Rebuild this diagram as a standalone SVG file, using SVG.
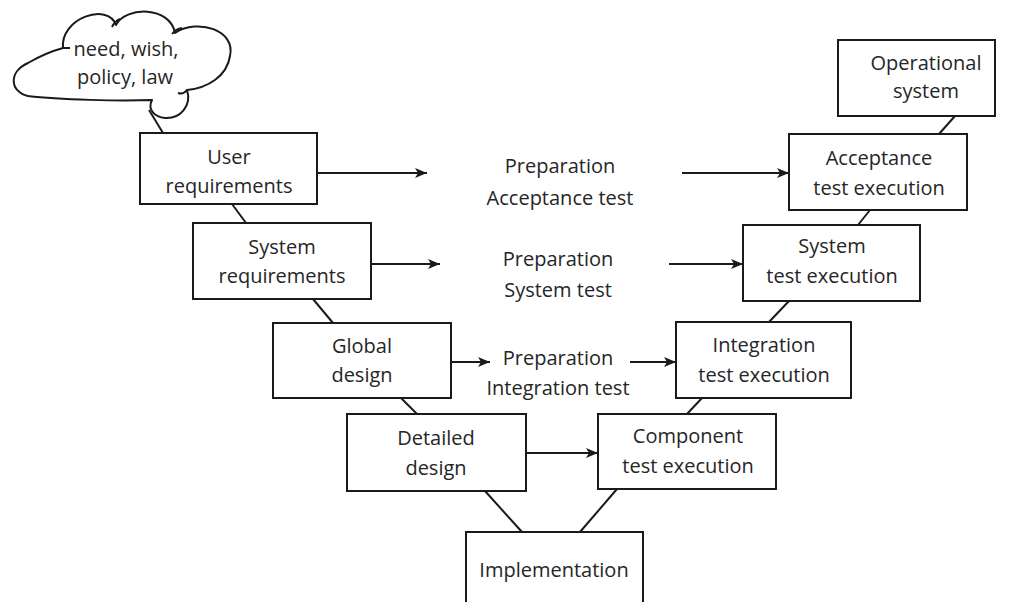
<svg xmlns="http://www.w3.org/2000/svg" width="1010" height="602" viewBox="0 0 1010 602">
  <defs>
    <marker id="arr" viewBox="0 0 12 10" refX="12" refY="5" markerWidth="12" markerHeight="10" markerUnits="userSpaceOnUse" orient="auto">
      <path d="M0,0 L12,5 L0,10 L3,5 Z" fill="#1a1a1a"/>
    </marker>
    <style>
      .box { fill: #fff; stroke: #1a1a1a; stroke-width: 2; }
      .cloud { fill: #fff; stroke: #1a1a1a; stroke-width: 2; stroke-linejoin: round; }
      .t { font-family: "Open Sans", "Liberation Sans", sans-serif; font-size: 20px; fill: #262626; text-anchor: middle; }
      .c { stroke: #1a1a1a; stroke-width: 2; fill: none; }
      .a { stroke: #1a1a1a; stroke-width: 2; fill: none; marker-end: url(#arr); }
    </style>
  </defs>
  <rect width="1010" height="602" fill="#fff"/>

  <g id="connectors">
    <line class="c" x1="149" y1="110" x2="163" y2="133"/>
    <line class="c" x1="232" y1="204" x2="246" y2="223"/>
    <line class="c" x1="313" y1="299" x2="333" y2="323"/>
    <line class="c" x1="401" y1="398" x2="417" y2="414"/>
    <line class="c" x1="485" y1="491" x2="522" y2="532"/>
    <line class="c" x1="617" y1="489" x2="580" y2="532"/>
    <line class="c" x1="702" y1="398" x2="687" y2="414"/>
    <line class="c" x1="789" y1="301" x2="769" y2="322"/>
    <line class="c" x1="870" y1="210" x2="858" y2="225"/>
    <line class="c" x1="955" y1="116" x2="939" y2="134"/>
    <line class="a" x1="316" y1="173" x2="427" y2="173"/>
    <line class="a" x1="682" y1="173" x2="789" y2="173"/>
    <line class="a" x1="371" y1="264" x2="440" y2="264"/>
    <line class="a" x1="669" y1="264" x2="743" y2="264"/>
    <line class="a" x1="451" y1="362" x2="490" y2="362"/>
    <line class="a" x1="630" y1="362" x2="676" y2="362"/>
    <line class="a" x1="526" y1="453" x2="598" y2="453"/>
  </g>

  <g id="cloud">
    <path class="cloud" d="M63,48 C60,18 108,2 116,25 C126,6 170,6 175,33 C198,18 236,30 230,56 C227,76 208,88 187,90 C192,106 180,119 165,118 C155,117 147,110 152,100 C120,101 60,100 28,96 C10,92 8,72 28,63 C40,56 52,51 63,48 Z"/>
    <path class="c" d="M112,27 Q115,21 120,19 M172,34 Q176,29 182,28 M187,90 Q183,95 178,93 M63,48 L70,48"/>
    <text class="t" x="126" y="56">need, wish,</text>
    <text class="t" x="125" y="84">policy, law</text>
  </g>

  <g id="user-requirements">
    <rect class="box" x="140" y="133" width="177" height="71"/>
    <text class="t" x="229" y="164">User</text>
    <text class="t" x="229" y="193">requirements</text>
  </g>

  <g id="system-requirements">
    <rect class="box" x="193" y="223" width="178" height="76"/>
    <text class="t" x="282" y="254">System</text>
    <text class="t" x="282" y="283">requirements</text>
  </g>

  <g id="global-design">
    <rect class="box" x="273" y="323" width="178" height="75"/>
    <text class="t" x="362" y="353">Global</text>
    <text class="t" x="362" y="382">design</text>
  </g>

  <g id="detailed-design">
    <rect class="box" x="347" y="414" width="179" height="77"/>
    <text class="t" x="436" y="445">Detailed</text>
    <text class="t" x="436" y="475">design</text>
  </g>

  <g id="implementation">
    <rect class="box" x="466" y="532" width="177" height="80"/>
    <text class="t" x="554" y="577">Implementation</text>
  </g>

  <g id="component-test">
    <rect class="box" x="598" y="414" width="178" height="75"/>
    <text class="t" x="688" y="443">Component</text>
    <text class="t" x="688" y="473">test execution</text>
  </g>

  <g id="integration-test">
    <rect class="box" x="676" y="322" width="175" height="76"/>
    <text class="t" x="764" y="352">Integration</text>
    <text class="t" x="764" y="382">test execution</text>
  </g>

  <g id="system-test">
    <rect class="box" x="743" y="225" width="177" height="76"/>
    <text class="t" x="832" y="253">System</text>
    <text class="t" x="832" y="283">test execution</text>
  </g>

  <g id="acceptance-test">
    <rect class="box" x="789" y="134" width="178" height="76"/>
    <text class="t" x="879" y="165">Acceptance</text>
    <text class="t" x="879" y="195">test execution</text>
  </g>

  <g id="operational-system">
    <rect class="box" x="838" y="40" width="157" height="76"/>
    <text class="t" x="926" y="70">Operational</text>
    <text class="t" x="926" y="98">system</text>
  </g>

  <g id="prep-acceptance">
    <text class="t" x="560" y="173">Preparation</text>
    <text class="t" x="560" y="205">Acceptance test</text>
  </g>

  <g id="prep-system">
    <text class="t" x="558" y="266">Preparation</text>
    <text class="t" x="558" y="297">System test</text>
  </g>

  <g id="prep-integration">
    <text class="t" x="558" y="365">Preparation</text>
    <text class="t" x="558" y="395">Integration test</text>
  </g>
</svg>
